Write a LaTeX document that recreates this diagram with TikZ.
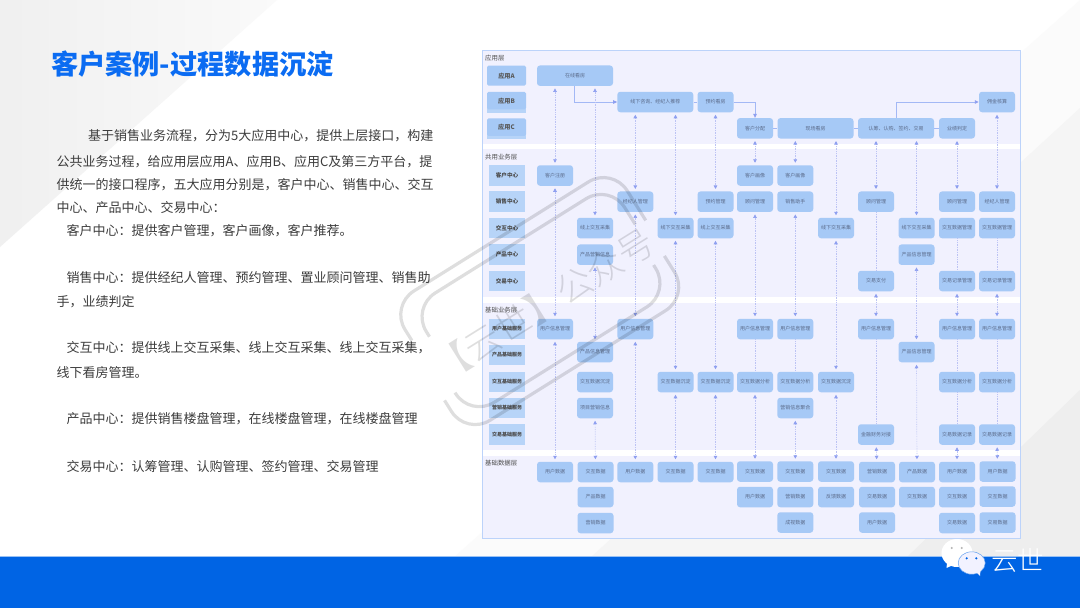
\documentclass[tikz,border=0pt]{standalone}
\usepackage{fontspec}
\setmainfont{Noto Sans CJK SC}
\newfontfamily\thincjk{Noto Sans CJK SC Light}
\usetikzlibrary{arrows.meta}
\definecolor{bandblue}{HTML}{0064E4}
\definecolor{titleblue}{HTML}{0B6CF2}
\definecolor{bodygray}{HTML}{3C3C3C}
\definecolor{framefill}{HTML}{F1F1FE}
\definecolor{frameline}{HTML}{BCD3FA}
\definecolor{nodeblue}{HTML}{A6C9F6}
\definecolor{rowblue}{HTML}{B7D4F8}
\definecolor{nodetext}{HTML}{5B6B8A}
\definecolor{lineblue}{HTML}{A3B8F5}
\definecolor{tipblue}{HTML}{8E9FF0}
\definecolor{dotblue}{HTML}{BCC3F4}
\definecolor{bgone}{HTML}{FBFBFB}
\definecolor{bgtwo}{HTML}{F5F5F5}
\definecolor{bgthree}{HTML}{EEEEEE}
\tikzset{
  boxnode/.style={rounded corners=3pt, fill=nodeblue, inner sep=0pt, minimum width=36pt, minimum height=20.5pt, text=nodetext, font=\fontsize{5}{5}\selectfont},
  widenode/.style={boxnode, minimum width=76pt},
  rownode/.style={fill=rowblue, inner sep=0pt, minimum width=36pt, minimum height=20.5pt, text=black!70, font=\bfseries\fontsize{5.6}{5.6}\selectfont},
  baserow/.style={rownode, font=\bfseries\fontsize{5}{5}\selectfont},
  appnode/.style={rounded corners=1.5pt, fill=nodeblue, inner sep=0pt, minimum width=39pt, minimum height=20pt, text=black!65, font=\bfseries\fontsize{6.2}{6.2}\selectfont},
  layertitle/.style={anchor=west, inner sep=0pt, text=black!70, font=\fontsize{6.4}{6.4}\selectfont},
  bodyline/.style={anchor=west, inner sep=0pt, text height=11pt, text depth=2pt, text=bodygray, font=\fontsize{13}{13}\selectfont},
  dotarrow/.style={{Triangle[length=3.5pt,width=3.6pt,color=tipblue]}-{Triangle[length=3.5pt,width=3.6pt,color=tipblue]}, dotblue, densely dotted, line width=0.7pt, shorten <=2.3pt, shorten >=2.3pt},
  dotline/.style={dotblue, densely dotted, line width=0.7pt},
  flowline/.style={lineblue, line width=0.9pt},
  flowarrow/.style={flowline, -{Triangle[length=4pt,width=3.6pt,color=tipblue]}}
}
\begin{document}
\begin{tikzpicture}[x=1pt, y=-1pt]
\useasboundingbox (0,0) rectangle (1080,608);
\fill[white] (0,0) rectangle (1080,608);
\shade[left color=black!6, right color=black!2] (0,0) -- (277,0) -- (0,247) -- cycle;
\fill[bgone] (1080,0) -- (453,558) -- (1080,558) -- cycle;
\fill[bgtwo] (1080,108) -- (590,558) -- (1080,558) -- cycle;
\fill[bgthree] (1080,390) -- (906,558) -- (1080,558) -- cycle;
\fill[bandblue!40!white] (0,556.3) rectangle (1080,557.3);
\fill[bandblue] (0,557.3) rectangle (1080,608);
\node[anchor=west, inner sep=0pt, text=titleblue, font=\bfseries\fontsize{27.2}{27.2}\selectfont] (title) at (51,64) {客户案例-过程数据沉淀};
\node[bodyline] (t1) at (88,136) {基于销售业务流程，分为5大应用中心，提供上层接口，构建};
\node[bodyline] (t2) at (56.5,162) {公共业务过程，给应用层应用A、应用B、应用C及第三方平台，提};
\node[bodyline] (t3) at (56.5,185) {供统一的接口程序，五大应用分别是，客户中心、销售中心、交互};
\node[bodyline] (t4) at (56.5,208) {中心、产品中心、交易中心：};
\node[bodyline] (t5) at (66.5,231) {客户中心：提供客户管理，客户画像，客户推荐。};
\node[bodyline] (t6) at (66.5,278) {销售中心：提供经纪人管理、预约管理、置业顾问管理、销售助};
\node[bodyline] (t7) at (56.5,301.5) {手，业绩判定};
\node[bodyline] (t8) at (66.5,348) {交互中心：提供线上交互采集、线上交互采集、线上交互采集，};
\node[bodyline] (t9) at (56.5,372.5) {线下看房管理。};
\node[bodyline] (t10) at (66.5,419) {产品中心：提供销售楼盘管理，在线楼盘管理，在线楼盘管理};
\node[bodyline] (t11) at (66.5,466.5) {交易中心：认筹管理、认购管理、签约管理、交易管理};
\draw[frameline, fill=framefill, line width=1pt] (482,50) rectangle (1020.5,538);
\fill[white] (483,143.7) rectangle (1020,149.3);
\fill[white] (483,297) rectangle (1020,302.7);
\fill[white] (483,450) rectangle (1020,456);
\node[layertitle] (l1) at (485,57.7) {应用层};
\node[layertitle] (l2) at (485,156.7) {共用业务层};
\node[layertitle] (l3) at (485,309.7) {基础业务层};
\node[layertitle] (l4) at (485,463) {基础数据层};
\fill[rowblue] (487,105) rectangle (526,112.5);
\fill[rowblue] (487,131) rectangle (526,138.5);
\node[appnode] (ra) at (506.5,75.7) {应用A};
\node[appnode, minimum height=17.5pt] (rb) at (506.5,100.7) {应用B};
\node[appnode, minimum height=17.5pt] (rc) at (506.5,127.2) {应用C};
\node[rownode] (r1) at (507,175.5) {客户中心};
\node[rownode] (r2) at (507,201.7) {销售中心};
\node[rownode] (r3) at (507,228) {交互中心};
\node[rownode] (r4) at (507,254.7) {产品中心};
\node[rownode] (r5) at (507,281) {交易中心};
\node[baserow] (r6) at (507,329) {用户基础服务};
\node[baserow] (r7) at (507,355) {产品基础服务};
\node[baserow] (r8) at (507,382) {交互基础服务};
\node[baserow] (r9) at (507,408) {营销基础服务};
\node[baserow] (r10) at (507,434.5) {交易基础服务};
\node[widenode] (a1) at (575,75.7) {在线看房};
\node[widenode] (a2) at (655.3,102) {线下咨询、经纪人推荐};
\node[boxnode] (a3) at (715.5,102) {预约看房};
\node[boxnode] (a4) at (755,128.3) {客户分配};
\node[widenode] (a5) at (815.5,128.3) {现场看房};
\node[widenode] (a6) at (896,128.3) {认筹、认购、签约、交易};
\node[boxnode] (a7) at (957,128.3) {业绩判定};
\node[boxnode] (a8) at (997,102) {佣金核算};
\node[boxnode] (s1a) at (555,175.5) {客户注册};
\node[boxnode] (s2c) at (595,228) {线上交互采集};
\node[boxnode] (s2d) at (595,254.7) {产品营销信息};
\node[boxnode] (s3b) at (635.3,201.7) {经纪人管理};
\node[boxnode] (s4c) at (675.5,228) {线下交互采集};
\node[boxnode] (s5b) at (715.5,201.7) {预约管理};
\node[boxnode] (s5c) at (715.5,228) {线上交互采集};
\node[boxnode] (s6a) at (755,175.5) {客户画像};
\node[boxnode] (s6b) at (755,201.7) {顾问管理};
\node[boxnode] (s7a) at (795.3,175.5) {客户画像};
\node[boxnode] (s7b) at (795.3,201.7) {销售助手};
\node[boxnode] (s8c) at (836,228) {线下交互采集};
\node[boxnode] (s9b) at (876,201.7) {顾问管理};
\node[boxnode] (s9e) at (876,281) {交易支付};
\node[boxnode] (s10c) at (916.5,228) {线下交互采集};
\node[boxnode] (s10d) at (916.5,254.7) {产品信息管理};
\node[boxnode] (s11b) at (957,201.7) {顾问管理};
\node[boxnode] (s11c) at (957,228) {交互数据管理};
\node[boxnode] (s11e) at (957,281) {交易记录管理};
\node[boxnode] (s12b) at (997,201.7) {经纪人管理};
\node[boxnode] (s12c) at (997,228) {交互数据管理};
\node[boxnode] (s12e) at (997,281) {交易记录管理};
\node[boxnode] (b1a) at (555,329) {用户信息管理};
\node[boxnode] (b2b) at (595,352) {产品信息管理};
\node[boxnode] (b2c) at (595,382) {交互数据沉淀};
\node[boxnode] (b2d) at (595,408) {项目营销信息};
\node[boxnode] (b3a) at (635.3,329) {用户信息管理};
\node[boxnode] (b4c) at (675.5,382) {交互数据沉淀};
\node[boxnode] (b5c) at (715.5,382) {交互数据沉淀};
\node[boxnode] (b6a) at (755,329) {用户信息管理};
\node[boxnode] (b6c) at (755,382) {交互数据分析};
\node[boxnode] (b7a) at (795.3,329) {用户信息管理};
\node[boxnode] (b7c) at (795.3,382) {交互数据分析};
\node[boxnode] (b7d) at (795.3,408) {营销信息聚合};
\node[boxnode] (b8c) at (836,382) {交互数据沉淀};
\node[boxnode] (b9a) at (876,329) {用户信息管理};
\node[boxnode] (b9e) at (876,434.5) {金融财务对接};
\node[boxnode] (b10b) at (916.5,352) {产品信息管理};
\node[boxnode] (b11a) at (957,329) {用户信息管理};
\node[boxnode] (b11c) at (957,382) {交互数据分析};
\node[boxnode] (b11e) at (957,434.5) {交易数据记录};
\node[boxnode] (b12a) at (997,329) {用户信息管理};
\node[boxnode] (b12c) at (997,382) {交互数据分析};
\node[boxnode] (b12e) at (997,434.5) {交易数据记录};
\node[boxnode] (d1a) at (555,472) {用户数据};
\node[boxnode] (d2a) at (595.5,472) {交互数据};
\node[boxnode] (d2b) at (595.5,497) {产品数据};
\node[boxnode] (d2c) at (595.5,523) {营销数据};
\node[boxnode] (d3a) at (635.3,472) {用户数据};
\node[boxnode] (d4a) at (675.5,472) {交互数据};
\node[boxnode] (d5a) at (715.5,472) {交互数据};
\node[boxnode] (d6a) at (755,471.5) {交互数据};
\node[boxnode] (d6b) at (755,497) {用户数据};
\node[boxnode] (d7a) at (795.3,471.5) {交互数据};
\node[boxnode] (d7b) at (795.3,497) {营销数据};
\node[boxnode] (d7c) at (795.3,522.5) {成视数据};
\node[boxnode] (d8a) at (836,471.5) {交互数据};
\node[boxnode] (d8b) at (836,497) {反馈数据};
\node[boxnode] (d9a) at (877,472) {营销数据};
\node[boxnode] (d9b) at (877,497) {交易数据};
\node[boxnode] (d9c) at (877,522.5) {用户数据};
\node[boxnode] (d10a) at (917,472) {产品数据};
\node[boxnode] (d10b) at (917,497) {交互数据};
\node[boxnode] (d11a) at (957,472) {用户数据};
\node[boxnode] (d11b) at (957,497) {交互数据};
\node[boxnode] (d11c) at (957,523) {交易数据};
\node[boxnode] (d12a) at (997.5,471.5) {用户数据};
\node[boxnode] (d12b) at (997.5,496.5) {交互数据};
\node[boxnode] (d12c) at (997.5,522.5) {交易数据};
\draw[flowline] (a2) -- (a3);
\draw[flowline] (a4) -- (a5);
\draw[flowline] (a5) -- (a6);
\draw[flowline] (a6) -- (a7);
\draw[flowarrow] ([xshift=-1pt]a1.south) |- (a2.west);
\draw[flowarrow] (a3.east) -| (a4.north);
\draw[flowarrow] (a6.north) |- (a8.west);
\draw[dotarrow] (a1.south -| s1a) -- (s1a.north);
\draw[dotarrow] (a1.south -| s2c) -- (s2c.north);
\draw[dotarrow] (a2.south -| s3b) -- (s3b.north);
\draw[dotarrow] (a2.south -| s4c) -- (s4c.north);
\draw[dotarrow] (a3) -- (s5b);
\draw[dotarrow] (a4) -- (s6a);
\draw[dotarrow] (a5.south -| s7a) -- (s7a.north);
\draw[dotarrow] (a5.south -| s8c) -- (s8c.north);
\draw[dotarrow] (a6.south -| s9b) -- (s9b.north);
\draw[dotarrow] (a6.south -| s10c) -- (s10c.north);
\draw[dotarrow] (a7) -- (s11b);
\draw[dotarrow] (a8) -- (s12b);
\draw[dotarrow] (s1a) -- (b1a);
\draw[dotarrow] (s2d) -- (b2b);
\draw[dotarrow] (s3b) -- (b3a);
\draw[dotarrow] (s4c) -- (b4c);
\draw[dotarrow] (s5c) -- (b5c);
\draw[dotarrow] (s6b) -- (b6a);
\draw[dotarrow] (s7b) -- (b7a);
\draw[dotarrow] (s8c) -- (b8c);
\draw[dotarrow] (s9e) -- (b9a);
\draw[dotarrow] (s10d) -- (b10b);
\draw[dotarrow] (s11e) -- (b11a);
\draw[dotarrow] (s12e) -- (b12a);
\draw[dotarrow] (b1a) -- (d1a);
\draw[dotarrow] (b2d) -- (d2a);
\draw[dotarrow] (b3a) -- (d3a);
\draw[dotarrow] (b4c) -- (d4a);
\draw[dotarrow] (b5c) -- (d5a);
\draw[dotarrow] (b6c) -- (d6a);
\draw[dotarrow] (b7d) -- (d7a);
\draw[dotarrow] (b8c) -- (d8a);
\draw[dotarrow] (b9e) -- (d9a);
\draw[dotarrow] (b10b) -- (d10a);
\draw[dotarrow] (b11e) -- (d11a);
\draw[dotarrow] (b12e) -- (d12a);
\draw[dotline] (s9b) -- (s9e);
\draw[dotline] (s11c) -- (s11e);
\draw[dotline] (s12c) -- (s12e);
\draw[dotline] (b6a) -- (b6c);
\draw[dotline] (b7a) -- (b7c);
\draw[dotline] (b9a) -- (b9e);
\draw[dotline] (b11a) -- (b11c);
\draw[dotline] (b11c) -- (b11e);
\draw[dotline] (b12a) -- (b12c);
\draw[dotline] (b12c) -- (b12e);
\begin{scope}[shift={(541,300)}, rotate=32, black, opacity=0.13, line width=3.2pt, rounded corners=28pt]
\draw (-131,-34) -- (-131,-75) -- (131,-75) -- (131,-12);
\draw (-114,-28) -- (-114,-62) -- (120,-62) -- (120,-14);
\draw (-135,34) -- (-135,75) -- (128,75) -- (128,28);
\draw (-122,33) -- (-122,62) -- (114,62) -- (114,30);
\node[rotate=32, inner sep=0pt, font=\thincjk\fontsize{36}{36}\selectfont] (mark) at (0,5) {【云世】公众号};
\end{scope}
\fill[white] (957,553) ellipse [x radius=15.5, y radius=14];
\fill[white] (947,563) -- (946.5,568) -- (953,565) -- cycle;
\fill[black!30] (951.7,548) circle (1.1);
\fill[black!30] (961.7,548) circle (1.1);
\filldraw[fill=blue!5!white, draw=bandblue!60!white, line width=0.5pt] (971.7,563) ellipse [x radius=13.5, y radius=11.2];
\fill[blue!5!white] (976,572) -- (980,576) -- (980.5,570) -- cycle;
\fill[bandblue] (966.7,558.3) circle (1.2);
\fill[bandblue] (976.3,558.3) circle (1.2);
\node[inner sep=0pt, text=white, font=\thincjk\fontsize{26.5}{26.5}\selectfont] (brand) at (1017.5,560) {云世};
\end{tikzpicture}
\end{document}
